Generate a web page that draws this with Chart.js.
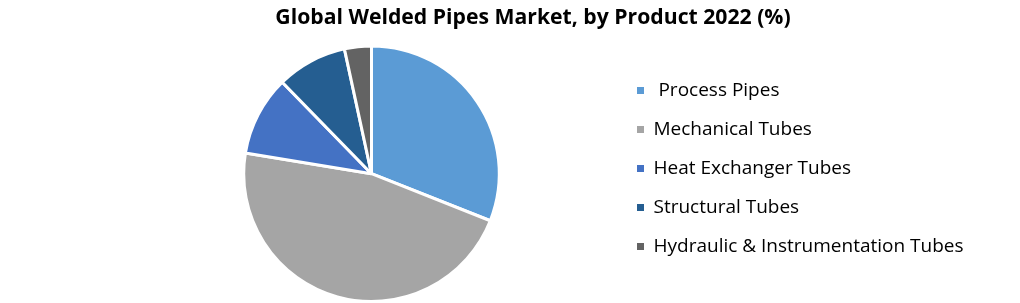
<!DOCTYPE html>
<html>
<head>
<meta charset="utf-8">
<script src="https://cdn.jsdelivr.net/npm/chart.js@4.4.0/dist/chart.umd.min.js"></script>
<style>
  html, body { margin: 0; padding: 0; background: #fff; }
  #wrap { width: 1020px; height: 303px; }
</style>
</head>
<body>
<div id="wrap"><canvas id="pieChart" width="1020" height="303"></canvas></div>
<script>
// data (% share by product, 2022)
const categories = [' Process Pipes', 'Mechanical Tubes', 'Heat Exchanger Tubes', 'Structural Tubes', 'Hydraulic & Instrumentation Tubes'];
const shares = [31.0, 46.6, 10.1, 8.9, 3.4];
const sliceColors = ['#5B9BD5', '#A5A5A5', '#4472C4', '#255E91', '#636363'];
const chartTitle = 'Global Welded Pipes Market, by Product 2022 (%)';

const ctx = document.getElementById('pieChart').getContext('2d');

// legend squares without the white slice border
const baseLabels = Chart.overrides.pie.plugins.legend.labels.generateLabels;

// empty layout boxes so the pie and the legend sit where the reference has them
// (display:false keeps them out of the legend's max-width share)
function spacer(position, weight, getWidth) {
  return {
    position: position,
    weight: weight,
    fullSize: false,
    options: { display: false },
    left: 0, top: 0, right: 0, bottom: 0, width: 0, height: 0,
    isHorizontal() { return false; },
    update(maxWidth, maxHeight) {
      this.width = Math.max(getWidth(), 0);
      this.height = maxHeight;
    },
    draw() {}
  };
}

const spacerPlugin = {
  id: 'spacers',
  start(chart) {
    Chart.layouts.addBox(chart, spacer('left', 0, () => 80));
    // legend left edge at x = 617
    Chart.layouts.addBox(chart, spacer('right', 1001, () => 403 - (chart.legend ? chart.legend.width : 0)));
  }
};

const pieChart = new Chart(ctx, {
  type: 'pie',
  data: {
    labels: categories,
    datasets: [{
      data: shares,
      backgroundColor: sliceColors,
      borderColor: '#fff',
      borderWidth: 3
    }]
  },
  options: {
    responsive: false,
    animation: false,
    layout: {
      padding: { left: 46, right: 0, top: 0, bottom: 0 }
    },
    plugins: {
      title: {
        display: true,
        text: chartTitle,
        color: '#000',
        font: { family: 'Open Sans', size: 21.2, weight: 'bold', lineHeight: 1.2 },
        padding: { top: 5, bottom: 14 }
      },
      legend: {
        position: 'right',
        align: 'start',
        fullSize: false,
        title: {
          display: true,
          text: '',
          font: { size: 10, lineHeight: 1 },
          padding: { top: 6.5, bottom: 0 }
        },
        labels: {
          color: '#000',
          boxWidth: 7,
          boxHeight: 7,
          padding: 20,
          font: { family: 'Open Sans', size: 19 },
          generateLabels: (chart) => baseLabels(chart).map((item) => {
            item.lineWidth = 0;
            item.strokeStyle = item.fillStyle;
            return item;
          })
        }
      },
      tooltip: { enabled: false }
    }
  },
  plugins: [spacerPlugin]
});
</script>
</body>
</html>
